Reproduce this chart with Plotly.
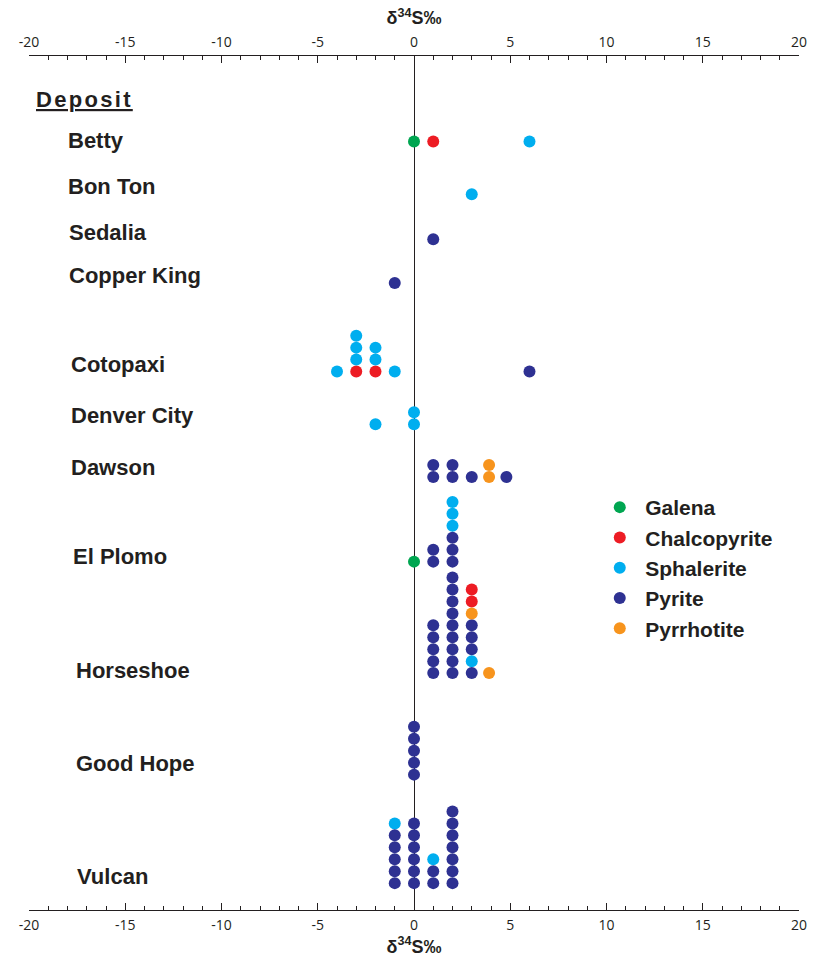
import plotly.graph_objects as go

# ---- data: δ34S values (‰) by mineral, with the deposit and the stack level of each dot ----
deposits = ["Betty", "Bon Ton", "Sedalia", "Copper King", "Cotopaxi", "Denver City",
            "Dawson", "El Plomo", "Horseshoe", "Good Hope", "Vulcan"]

galena_deposit = ["Betty", "El Plomo"]
galena_d34s = [0, 0]
galena_level = [0, 0]

chalco_deposit = ["Betty", "Cotopaxi", "Cotopaxi", "Horseshoe", "Horseshoe"]
chalco_d34s = [1, -3, -2, 3, 3]
chalco_level = [0, 0, 0, 6, 7]

sphal_deposit = ["Betty", "Bon Ton",
                 "Cotopaxi", "Cotopaxi", "Cotopaxi", "Cotopaxi", "Cotopaxi", "Cotopaxi", "Cotopaxi",
                 "Denver City", "Denver City", "Denver City",
                 "El Plomo", "El Plomo", "El Plomo",
                 "Horseshoe", "Vulcan", "Vulcan"]
sphal_d34s = [6, 3,
              -4, -3, -3, -3, -2, -2, -1,
              0, 0, -2,
              2, 2, 2,
              3, -1, 1]
sphal_level = [0, 0,
               0, 1, 2, 3, 1, 2, 0,
               0, 1, 0,
               3, 4, 5,
               1, 5, 2]

pyrite_deposit = (["Sedalia", "Copper King", "Cotopaxi"]
                  + ["Dawson"] * 6
                  + ["El Plomo"] * 5
                  + ["Horseshoe"] * 18
                  + ["Good Hope"] * 5
                  + ["Vulcan"] * 20)
pyrite_d34s = ([1, -1, 6]
               + [1, 1, 2, 2, 3, 4.8]
               + [1, 1, 2, 2, 2]
               + [1] * 5 + [2] * 9 + [3] * 4
               + [0] * 5
               + [-1] * 5 + [0] * 6 + [1] * 2 + [2] * 7)
pyrite_level = ([0, 0, 0]
                + [0, 1, 0, 1, 0, 0]
                + [0, 1, 0, 1, 2]
                + [0, 1, 2, 3, 4] + list(range(9)) + [0, 2, 3, 4]
                + [0, 1, 2, 3, 4]
                + [0, 1, 2, 3, 4] + [0, 1, 2, 3, 4, 5] + [0, 1] + [0, 1, 2, 3, 4, 5, 6])

pyrrh_deposit = ["Dawson", "Dawson", "Horseshoe", "Horseshoe"]
pyrrh_d34s = [3.9, 3.9, 3, 3.9]
pyrrh_level = [0, 1, 5, 0]

tick_values = [-20, -15, -10, -5, 0, 5, 10, 15, 20]
tick_labels = ["-20", "-15", "-10", "-5", "0", "5", "10", "15", "20"]

minerals = [
    ("Galena", "#00A651", galena_deposit, galena_d34s, galena_level),
    ("Chalcopyrite", "#ED1C24", chalco_deposit, chalco_d34s, chalco_level),
    ("Sphalerite", "#00AEEF", sphal_deposit, sphal_d34s, sphal_level),
    ("Pyrite", "#2E3192", pyrite_deposit, pyrite_d34s, pyrite_level),
    ("Pyrrhotite", "#F7941D", pyrrh_deposit, pyrrh_d34s, pyrrh_level),
]

# ---- layout of the rows (vertical axis counts pixels down from the top axis) ----
row_base = dict(zip(deposits, [86, 139, 184, 228, 317, 370, 423, 508, 620, 722, 831]))
label_y = dict(zip(deposits, [85, 131, 177, 221, 310, 361, 413, 503, 617, 711, 824]))
label_x = dict(zip(deposits, [66, 66, 67, 67, 69, 69, 69, 71, 74, 74, 75]))
PITCH = 12

W, H = 819, 961
ML, MR, MT, MB = 29, 19, 56, 47
PW, PH = W - ML - MR, H - MT - MB

INK = "#231F20"
LABEL_FONT = "Liberation Sans, Arial, Helvetica, sans-serif"
TICK_FONT = "Open Sans, Liberation Sans, sans-serif"

fig = go.Figure()
for name, color, dep, vals, lev in minerals:
    fig.add_trace(go.Scatter(
        x=vals,
        y=[row_base[d] - l * PITCH for d, l in zip(dep, lev)],
        mode="markers",
        name=name,
        legendgroup=name,
        marker=dict(size=12, color=color, line=dict(width=0)),
        hoverinfo="x+name",
    ))

# carrier for the top axis
fig.add_trace(go.Scatter(x=[0], y=[0], xaxis="x2", mode="markers",
                         marker=dict(opacity=0), showlegend=False, hoverinfo="skip"))

def px_to_paper_x(px):
    return (px - ML) / PW

def px_to_paper_y(px):
    return 1 - (px - MT) / PH

annotations = [dict(text='<b><u><span style="letter-spacing:2.3px">Deposit</span></u></b>',
                    xref="paper", yref="y",
                    x=px_to_paper_x(34), y=44, xanchor="left", yanchor="middle",
                    showarrow=False, font=dict(family=LABEL_FONT, size=22, color=INK))]
for d in deposits:
    annotations.append(dict(text=f"<b>{d}</b>", xref="paper", yref="y",
                            x=px_to_paper_x(label_x[d]), y=label_y[d],
                            xanchor="left", yanchor="middle", showarrow=False,
                            font=dict(family=LABEL_FONT, size=22, color=INK)))

axis_common = dict(
    range=[-20, 20],
    tickmode="array", tickvals=tick_values, ticktext=tick_labels,
    ticks="inside", ticklen=7, tickwidth=1.2, tickcolor=INK,
    minor=dict(ticks="inside", dtick=1, tick0=-20, ticklen=4, tickwidth=1.2, tickcolor=INK),
    showline=True, linecolor=INK, linewidth=1.3,
    showgrid=False,
    tickfont=dict(family=TICK_FONT, size=14, color=INK),
    title=dict(text="<b>δ<sup>34</sup>S‰</b>",
               font=dict(family=LABEL_FONT, size=18, color=INK), standoff=2),
    fixedrange=True,
)

fig.update_layout(
    width=W, height=H,
    margin=dict(l=ML, r=MR, t=MT, b=MB),
    paper_bgcolor="white", plot_bgcolor="white",
    xaxis=dict(**axis_common, side="bottom", zeroline=True, zerolinecolor=INK,
               zerolinewidth=1.4, ticklabelstandoff=2),
    xaxis2=dict(**axis_common, side="top", overlaying="x", matches="x",
                zeroline=False, ticklabelstandoff=2),
    yaxis=dict(range=[PH, 0], visible=False, fixedrange=True),
    legend=dict(x=px_to_paper_x(595), y=px_to_paper_y(489), xanchor="left", yanchor="top",
                font=dict(family=LABEL_FONT, size=21, color=INK, weight="bold"),
                bgcolor="rgba(0,0,0,0)", itemsizing="constant", itemwidth=41,
                tracegroupgap=0),
    annotations=annotations,
    showlegend=True,
)

fig.write_html("out.html")
